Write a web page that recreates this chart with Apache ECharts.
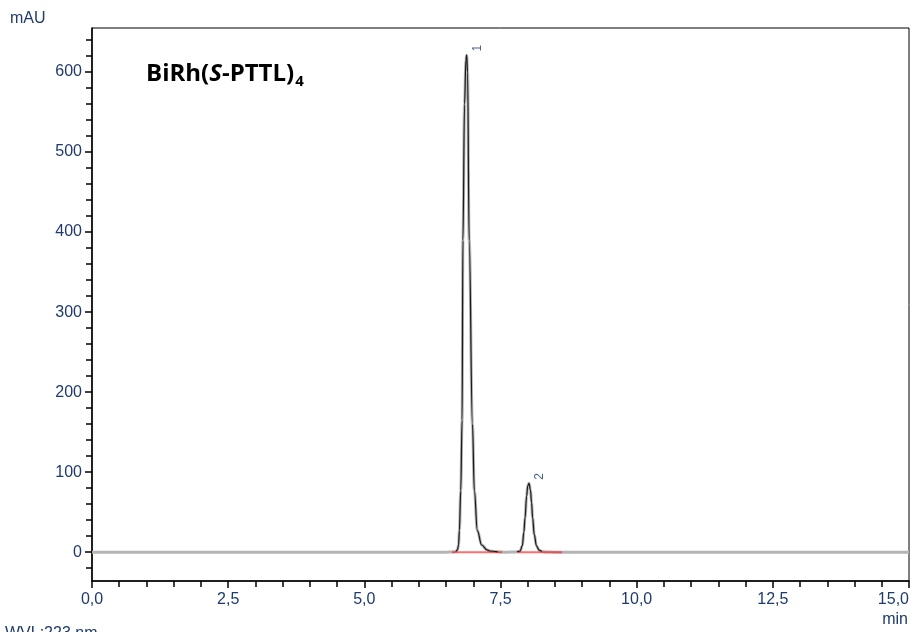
<!DOCTYPE html>
<html>
<head>
<meta charset="utf-8">
<script src="https://cdn.jsdelivr.net/npm/echarts@6/dist/echarts.min.js"></script>
<style>
  html, body { margin: 0; padding: 0; background: #fff; }
  #chart { width: 913px; height: 632px; }
</style>
</head>
<body>
<div id="chart"></div>
<script>
// Retention time (min) and detector response (mAU) of the chromatogram trace
const timeMin = [0, 6.50, 6.60, 6.68, 6.71, 6.73, 6.745, 6.77, 6.795, 6.81, 6.84, 6.865, 6.879, 6.895, 6.925, 6.985, 7.02, 7.075, 7.155, 7.25, 7.31, 7.45, 7.60,
                 7.80, 7.86, 7.90, 7.93, 7.95, 7.98, 8.00, 8.023, 8.05, 8.07, 8.09, 8.12, 8.16, 8.21, 8.26, 8.35, 8.50, 15.0];
const absorbance = [0, 0, 0.3, 0.8, 3, 9, 27, 77, 165, 390, 560, 615, 621, 600, 390, 160, 77, 27, 9, 3, 1.5, 0.5, 0,
                    0.3, 1.5, 8, 25, 43, 70, 83, 86, 78, 62, 43, 22, 8, 2.5, 0.8, 0.2, 0, 0];

// Integrated peaks: number, apex time, apex height, integration window
const peakNames = ['1', '2'];
const peakTimes = [6.879, 8.023];
const peakHeights = [621, 86];
const peakStarts = [6.61, 7.82];
const peakEnds = [7.53, 8.63];

// Axis ticks
const yLabelTicks = [0, 100, 200, 300, 400, 500, 600];
const yMinorTicks = [-20, 20, 40, 60, 80, 120, 140, 160, 180, 220, 240, 260, 280, 320, 340, 360, 380,
                     420, 440, 460, 480, 520, 540, 560, 580, 620, 640];

const labelColor = '#1e3a6e';
const fontFamily = '"Liberation Sans", Arial, sans-serif';

const trace = timeMin.map((t, i) => [t, absorbance[i]]);
// dark core of the trace: only where the signal rises off the baseline
const traceCore = timeMin.map((t, i) => {
  const raised = v => v !== undefined && v >= 1;
  const show = raised(absorbance[i]) || raised(absorbance[i - 1]) || raised(absorbance[i + 1]);
  return show ? [t, absorbance[i]] : [t, null];
});
const baselineSegments = [];
peakStarts.forEach((s, k) => {
  baselineSegments.push([s, 0], [peakEnds[k], 0], [null, null]);
});

const chart = echarts.init(document.getElementById('chart'), null, { renderer: 'canvas' });

chart.setOption({
  animation: false,
  backgroundColor: '#fff',
  title: {
    left: 141,
    top: 55,
    text: '{a|BiRh(}{i|S}{a|-PTTL)}{s|4}',
    textStyle: {
      rich: {
        a: { fontFamily: '"Open Sans", sans-serif', fontWeight: 'bold', fontSize: 24, color: '#000' },
        i: { fontFamily: '"Open Sans", sans-serif', fontWeight: 'bold', fontStyle: 'italic', fontSize: 24, color: '#000' },
        s: { fontFamily: '"Open Sans", sans-serif', fontWeight: 'bold', fontSize: 15, color: '#000', padding: [14, 0, 0, 1] }
      }
    }
  },
  graphic: [
    { type: 'text', left: 10, top: 11, style: { text: 'mAU', fontFamily, fontSize: 16, fill: labelColor } },
    { type: 'text', right: 5, top: 612, style: { text: 'min', fontFamily, fontSize: 16, fill: labelColor } },
    { type: 'text', left: 5, top: 626, style: { text: 'WVL:223 nm', fontFamily, fontSize: 16, fill: labelColor } }
  ],
  grid: {
    left: 92, right: 4, top: 28, bottom: 51,
    show: true, borderColor: '#000', borderWidth: 1, backgroundColor: 'transparent'
  },
  xAxis: {
    type: 'value',
    min: 0, max: 15, interval: 2.5,
    axisLine: { show: true, onZero: false, lineStyle: { color: '#000', width: 1.5 } },
    axisTick: { show: true, length: 7, lineStyle: { color: '#000', width: 1.5 } },
    minorTick: { show: true, splitNumber: 5, length: 6, lineStyle: { color: '#000', width: 1.5 } },
    splitLine: { show: false },
    axisLabel: {
      margin: 11, fontSize: 16, fontFamily, color: labelColor,
      alignMaxLabel: 'right',
      formatter: v => v.toFixed(1).replace('.', ',')
    }
  },
  yAxis: [
    {
      type: 'value', min: -36, max: 655, position: 'left',
      axisLine: { show: true, onZero: false, lineStyle: { color: '#000', width: 1.5 } },
      axisTick: { show: true, length: 7, customValues: yLabelTicks, lineStyle: { color: '#000', width: 1.5 } },
      axisLabel: { show: true, customValues: yLabelTicks, margin: 10, fontSize: 16, fontFamily, color: labelColor },
      splitLine: { show: false }
    },
    {
      type: 'value', min: -36, max: 655, position: 'left', offset: 0,
      axisLine: { show: false, onZero: false },
      axisTick: { show: true, length: 6, customValues: yMinorTicks, lineStyle: { color: '#000', width: 1.5 } },
      axisLabel: { show: false },
      splitLine: { show: false }
    }
  ],
  series: [
    {
      type: 'line', data: trace, yAxisIndex: 0, showSymbol: false,
      smooth: 0.4, smoothMonotone: 'x',
      lineStyle: { color: '#b4b4b4', width: 3 }, z: 2
    },
    {
      type: 'line', data: baselineSegments, yAxisIndex: 0, showSymbol: false, connectNulls: false,
      lineStyle: { color: 'rgba(255,30,30,0.65)', width: 2 }, z: 3
    },
    {
      type: 'line', data: traceCore, yAxisIndex: 0, showSymbol: false, connectNulls: false,
      smooth: 0.4, smoothMonotone: 'x',
      lineStyle: { color: '#1a1a1a', width: 1.2 }, z: 4
    },
    {
      type: 'scatter', yAxisIndex: 0, symbolSize: 0, z: 5,
      data: peakNames.map((n, k) => ({ name: n, value: [peakTimes[k], peakHeights[k]] })),
      label: {
        show: true, formatter: p => p.name, position: 'inside', rotate: 90,
        offset: [7, 11], fontSize: 12, fontFamily, color: labelColor
      }
    }
  ]
});
</script>
</body>
</html>
